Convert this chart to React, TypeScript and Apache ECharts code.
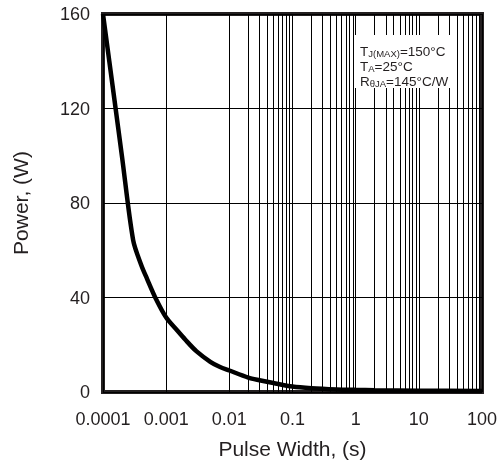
import React, { useEffect, useRef } from "react";
import * as echarts from "echarts";

const pulseWidths = [0.0001, 0.00015, 0.0002, 0.0003, 0.0004, 0.0005, 0.0007, 0.001, 0.0015, 0.002, 0.003, 0.005, 0.007, 0.01, 0.02, 0.03, 0.05, 0.1, 0.2, 0.5, 1, 2, 10, 100];
const powerValues = [160, 124.7, 99.6, 64.3, 54, 47.8, 39, 31.5, 26, 22.2, 17.3, 12.8, 10.7, 9.1, 6.1, 5.0, 3.8, 2.3, 1.6, 1.1, 0.9, 0.75, 0.55, 0.4];
const xTickLabels = ["0.0001", "0.001", "0.01", "0.1", "1", "10", "100"];
const yTicks = [0, 40, 80, 120, 160];
const decadeExponents = [-4, -3, -2, -1, 0, 1];
const minorMultipliers = [2, 3, 4, 5, 6, 7, 8, 9];
const noteLines = [
  ["T", "J(MAX)", "=150°C"],
  ["T", "A", "=25°C"],
  ["R", "θJA", "=145°C/W"],
];

const TEXT = "#231f20";
const FONT = "'Liberation Sans', Arial, Helvetica, sans-serif";

export default function App() {
  const ref = useRef<HTMLDivElement>(null);
  useEffect(() => {
    if (!ref.current) return;
    const chart = echarts.init(ref.current, undefined, { renderer: "svg" });
    const minorX: number[] = [];
    decadeExponents.forEach((e) => minorMultipliers.forEach((k) => minorX.push(parseFloat((k * Math.pow(10, e)).toPrecision(6)))));
    const lineData = pulseWidths.map((t, i) => [t, powerValues[i]]);
    const noteGraphics: any[] = noteLines.map((parts, i) => ({
      type: "text",
      x: 360,
      y: 58 + i * 15,
      z: 101,
      style: {
        text: `{b|${parts[0]}}{s|${parts[1]}}{b|${parts[2]}}`,
        verticalAlign: "bottom",
        fill: TEXT,
        rich: {
          b: { fontSize: 13.5, fontFamily: FONT, fill: TEXT, verticalAlign: "bottom", lineHeight: 15 },
          s: { fontSize: 9.5, fontFamily: FONT, fill: TEXT, verticalAlign: "bottom", lineHeight: 15 },
        },
      },
    }));
    chart.setOption({
      animation: false,
      textStyle: { fontFamily: FONT },
      grid: { left: 103, right: 18, top: 14, bottom: 74, show: true, borderColor: TEXT, borderWidth: 4, backgroundColor: "transparent" },
      xAxis: {
        type: "log",
        logBase: 10,
        min: 0.0001,
        max: 100,
        splitNumber: 6,
        name: "Pulse Width, (s)",
        nameLocation: "middle",
        nameGap: 46,
        nameTextStyle: { fontSize: 21, color: TEXT, fontFamily: FONT },
        axisLine: { show: false },
        axisTick: { show: false },
        axisLabel: {
          fontSize: 18,
          color: TEXT,
          margin: 18,
          interval: 0,
          showMinLabel: true,
          showMaxLabel: true,
          hideOverlap: false,
          formatter: (v: number) => {
            const idx = Math.round(Math.log10(v)) + 4;
            return xTickLabels[idx] ?? "";
          },
        },
        splitLine: { show: true, lineStyle: { color: "#000", width: 1 } },
      },
      yAxis: {
        type: "value",
        min: yTicks[0],
        max: yTicks[yTicks.length - 1],
        interval: 40,
        name: "Power, (W)",
        nameLocation: "middle",
        nameGap: 72,
        nameTextStyle: { fontSize: 21, color: TEXT, fontFamily: FONT },
        axisLine: { show: false },
        axisTick: { show: false },
        axisLabel: { fontSize: 18, color: TEXT, margin: 13 },
        splitLine: { show: true, lineStyle: { color: "#000", width: 1 } },
      },
      series: [
        {
          type: "line",
          data: [],
          z: 1,
          silent: true,
          markLine: {
            silent: true,
            symbol: "none",
            animation: false,
            label: { show: false },
            lineStyle: { color: "#000", width: 1, type: "solid" },
            data: minorX.map((v) => ({ xAxis: v })),
          },
        },
        {
          type: "line",
          data: lineData,
          z: 5,
          smooth: 0.3,
          showSymbol: false,
          symbol: "none",
          lineStyle: { color: "#000", width: 4.5 },
        },
      ],
      graphic: [
        { type: "rect", z: 100, shape: { x: 355, y: 35, width: 100, height: 53 }, style: { fill: "#fff" } },
        ...noteGraphics,
      ],
    });
    return () => chart.dispose();
  }, []);
  return <div ref={ref} style={{ position: "fixed", left: 0, top: 0, width: 500, height: 466 }} />;
}
